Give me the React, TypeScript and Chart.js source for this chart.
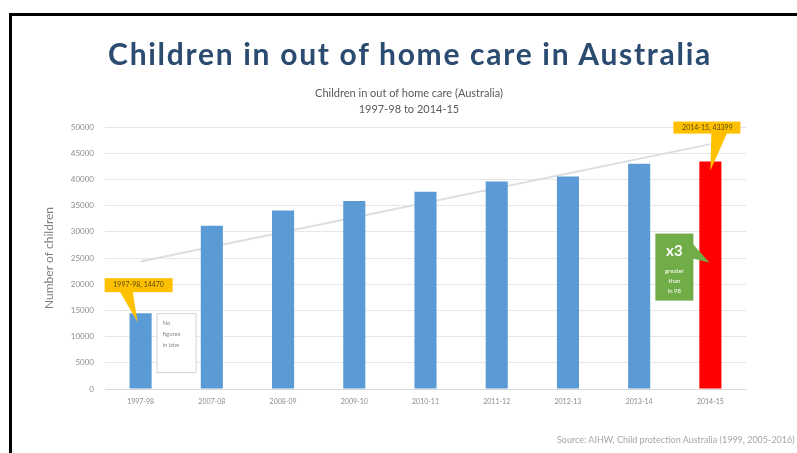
import React, { useEffect, useRef } from "react";
import { Chart, registerables } from "chart.js";

Chart.register(...registerables);

// ---------- data ----------
const categories = [
  "1997-98", "2007-08", "2008-09", "2009-10", "2010-11",
  "2011-12", "2012-13", "2013-14", "2014-15",
];
const childrenInCare = [14470, 31166, 34069, 35895, 37648, 39621, 40549, 43009, 43399];
const trendLine = [24340, null, null, null, null, null, null, null, 46730];
const barColors = [
  "#5B9BD5", "#5B9BD5", "#5B9BD5", "#5B9BD5", "#5B9BD5",
  "#5B9BD5", "#5B9BD5", "#5B9BD5", "#FF0000",
];
const yMax = 50000;
const yStep = 5000;

const mainTitle = "Children in out of home care in Australia";
const subTitleLines = ["Children in out of home care (Australia)", "1997-98 to 2014-15"];
const yAxisTitle = "Number of children";
const sourceText = "Source: AIHW, Child protection Australia (1999, 2005-2016)";
const firstCallout = "1997-98, 14470";
const lastCallout = "2014-15, 43399";
const gapNote = ["No", "figures", "in btw"];
const growthBig = "x3";
const growthSmall = ["greater", "than", "in 98"];

const FONT = "Lato, 'Open Sans', sans-serif";

const calloutPlugin = {
  id: "callouts",
  afterDatasetsDraw(chart: any) {
    const { ctx, scales } = chart;
    const xs = scales.x;
    const ys = scales.y;
    const x0 = xs.getPixelForValue(0);
    const y0 = ys.getPixelForValue(childrenInCare[0]);
    const x8 = xs.getPixelForValue(8);
    const y8 = ys.getPixelForValue(childrenInCare[8]);
    ctx.save();

    // first callout (yellow)
    ctx.fillStyle = "#FFC000";
    ctx.beginPath();
    ctx.moveTo(x0 - 21, y0 - 22);
    ctx.lineTo(x0 - 8, y0 - 22);
    ctx.lineTo(x0 - 3, y0 + 9);
    ctx.closePath();
    ctx.fill();
    ctx.fillRect(x0 - 36, y0 - 35, 68, 14);
    ctx.fillStyle = "#5a4a10";
    ctx.font = `7px ${FONT}`;
    ctx.textAlign = "center";
    ctx.textBaseline = "middle";
    ctx.fillText(firstCallout, x0 - 2, y0 - 28);

    // gap note box
    ctx.fillStyle = "#ffffff";
    ctx.fillRect(x0 + 16, y0, 39, 59);
    ctx.strokeStyle = "#d4d4d4";
    ctx.lineWidth = 1;
    ctx.strokeRect(x0 + 16.5, y0 + 0.5, 39, 59);
    ctx.fillStyle = "#8a8a8a";
    ctx.font = `6px ${FONT}`;
    ctx.textAlign = "left";
    gapNote.forEach((t, i) => ctx.fillText(t, x0 + 22, y0 + 10 + i * 11));

    // last callout (yellow)
    ctx.fillStyle = "#FFC000";
    ctx.beginPath();
    ctx.moveTo(x8 + 1, y8 - 29);
    ctx.lineTo(x8 + 17, y8 - 29);
    ctx.lineTo(x8, y8 + 9);
    ctx.closePath();
    ctx.fill();
    ctx.fillRect(x8 - 37, y8 - 40, 67, 12);
    ctx.fillStyle = "#5a4a10";
    ctx.font = `7px ${FONT}`;
    ctx.textAlign = "center";
    ctx.fillText(lastCallout, x8 - 3, y8 - 34);

    // green growth box
    ctx.fillStyle = "#70AD47";
    ctx.beginPath();
    ctx.moveTo(x8 - 18, y8 + 82);
    ctx.lineTo(x8 - 18, y8 + 97);
    ctx.lineTo(x8 - 1, y8 + 101);
    ctx.closePath();
    ctx.fill();
    ctx.fillRect(x8 - 55, y8 + 72, 38, 67);
    ctx.fillStyle = "#ffffff";
    ctx.font = `bold 15px ${FONT}`;
    ctx.textAlign = "center";
    ctx.fillText(growthBig, x8 - 36, y8 + 90);
    ctx.font = `6px ${FONT}`;
    growthSmall.forEach((t, i) => ctx.fillText(t, x8 - 36, y8 + 109 + i * 10));

    ctx.restore();
  },
};

export default function App() {
  const canvasRef = useRef<HTMLCanvasElement | null>(null);

  useEffect(() => {
    const canvas = canvasRef.current;
    if (!canvas) return;
    const chart = new Chart(canvas, {
      type: "bar",
      data: {
        labels: categories,
        datasets: [
          {
            type: "bar",
            data: childrenInCare,
            backgroundColor: barColors,
            barPercentage: 0.31,
            categoryPercentage: 1,
            order: 1,
          },
          {
            type: "line",
            data: trendLine as any,
            borderColor: "#dadde3",
            borderWidth: 2,
            pointRadius: 0,
            spanGaps: true,
            fill: false,
            order: 2,
          },
        ],
      } as any,
      options: {
        animation: false,
        responsive: false,
        maintainAspectRatio: false,
        layout: { padding: { left: 38, right: 51, top: 127, bottom: 39 } },
        plugins: {
          legend: { display: false },
          tooltip: { enabled: false },
          title: { display: false },
        },
        scales: {
          x: {
            grid: { display: false, drawTicks: false },
            border: { display: true, color: "#d9d9d9", width: 1 },
            ticks: { color: "#8c8c8c", font: { family: FONT, size: 7 }, padding: 9, maxRotation: 0 },
            afterFit: (s: any) => { s.height = 25; },
          },
          y: {
            min: 0,
            max: yMax,
            grid: { color: "#e6e6e6", drawTicks: false },
            border: { display: false },
            ticks: {
              stepSize: yStep,
              color: "#8c8c8c",
              font: { family: FONT, size: 8 },
              padding: 11,
              callback: (v: any) => String(v),
            },
            title: {
              display: true,
              text: yAxisTitle,
              color: "#7f7f7f",
              font: { family: FONT, size: 12 },
              padding: { top: 4, bottom: 4 },
            },
            afterFit: (s: any) => { s.width = 67; },
          },
        },
      } as any,
      plugins: [calloutPlugin],
    });
    return () => chart.destroy();
  }, []);

  return (
    <div
      style={{
        position: "fixed",
        left: 0,
        top: 0,
        width: 797,
        height: 453,
        overflow: "hidden",
        background: "#ffffff",
        fontFamily: FONT,
      }}
    >
      <canvas
        ref={canvasRef}
        width={797}
        height={453}
        style={{ position: "absolute", left: 0, top: 0, width: 797, height: 453, display: "block" }}
      />
      <div
        style={{
          position: "absolute",
          left: 9,
          top: 13,
          width: 900,
          height: 600,
          border: "3px solid #000",
          boxSizing: "border-box",
          pointerEvents: "none",
        }}
      />
      <div
        style={{
          position: "absolute",
          left: 10,
          width: 800,
          top: 35,
          textAlign: "center",
          fontSize: 30,
          fontWeight: 700,
          lineHeight: "36px",
          color: "#2B4B70",
          letterSpacing: 1.7,
          whiteSpace: "nowrap",
        }}
      >
        {mainTitle}
      </div>
      <div
        style={{
          position: "absolute",
          left: 9,
          width: 800,
          top: 85,
          textAlign: "center",
          fontSize: 11,
          lineHeight: "16px",
          color: "#595959",
          whiteSpace: "nowrap",
        }}
      >
        {subTitleLines.map((l) => (
          <div key={l}>{l}</div>
        ))}
      </div>
      <div
        style={{
          position: "absolute",
          left: 557,
          top: 434,
          fontSize: 9,
          lineHeight: "12px",
          color: "#a6a6a6",
          whiteSpace: "nowrap",
        }}
      >
        {sourceText}
      </div>
    </div>
  );
}
